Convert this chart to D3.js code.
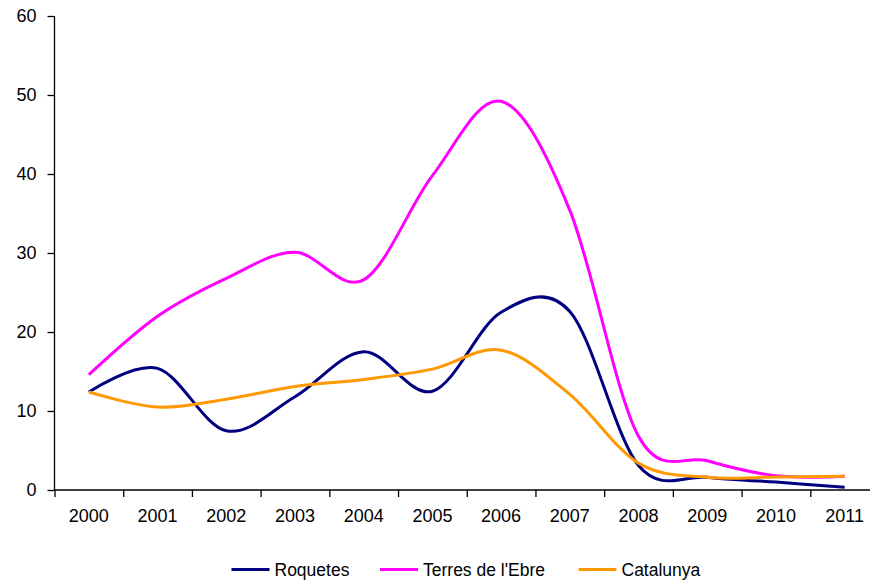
<!DOCTYPE html>
<html>
<head>
<meta charset="utf-8">
<script src="https://cdnjs.cloudflare.com/ajax/libs/d3/7.8.5/d3.min.js"></script>
<style>
  html, body { margin: 0; padding: 0; background: #fff; }
  svg { display: block; font-family: "Liberation Sans", Arial, sans-serif; }
</style>
</head>
<body>
<svg id="chart" width="870" height="580"></svg>
<script>
const years = ["2000","2001","2002","2003","2004","2005","2006","2007","2008","2009","2010","2011"];
const roquetes = [12.4, 15.4, 7.5, 11.8, 17.5, 12.5, 22.5, 22.6, 3.1, 1.6, 1.0, 0.35];
const terres   = [14.6, 22.0, 26.8, 30.1, 26.6, 39.8, 49.2, 35.4, 6.8, 3.7, 1.8, 1.75];
const catalunya = [12.4, 10.5, 11.5, 13.1, 14.0, 15.3, 17.7, 12.1, 3.4, 1.6, 1.65, 1.75];
const yTicks = [0, 10, 20, 30, 40, 50, 60];
const seriesNames = ["Roquetes", "Terres de l'Ebre", "Catalunya"];
const seriesColors = ["#000080", "#FF00FF", "#FF9900"];
const seriesValues = [roquetes, terres, catalunya];

(function () {
const svg = d3.select("#chart");
const mLeft = 54.5, mRight = 879, mTop = 16, mBottom = 490;

const xBand = d3.scaleBand().domain(years).range([mLeft, mRight]).paddingInner(0).paddingOuter(0);
const xLin = d3.scaleLinear().domain([0, years.length]).range([mLeft, mRight]);
const y = d3.scaleLinear().domain([0, 60]).range([mBottom, mTop]);

// Y axis
const yAxis = svg.append("g").attr("transform", `translate(${mLeft},0)`)
  .call(d3.axisLeft(y).tickValues(yTicks).tickSize(7).tickPadding(11).tickFormat(d3.format("d")));
yAxis.select(".domain").attr("stroke", "#000").attr("stroke-width", 1.3).attr("d", `M0,${mTop}V${mBottom}`);
yAxis.selectAll(".tick line").attr("stroke", "#000").attr("stroke-width", 1.3);
yAxis.selectAll("text").attr("font-size", 18).attr("fill", "#000").attr("font-family", "Liberation Sans, Arial, sans-serif");

// X axis tick marks (between categories)
const xAxis = svg.append("g").attr("transform", `translate(0,${mBottom})`)
  .call(d3.axisBottom(xLin).tickValues(d3.range(years.length + 1)).tickSize(7).tickFormat(""));
xAxis.select(".domain").attr("stroke", "#000").attr("stroke-width", 1.3).attr("d", `M${mLeft},0H${mRight}`);
xAxis.selectAll(".tick line").attr("stroke", "#000").attr("stroke-width", 1.3);

// X labels at category centers
const xLab = svg.append("g").attr("transform", `translate(0,${mBottom})`)
  .call(d3.axisBottom(xBand).tickSize(0).tickPadding(19));
xLab.select(".domain").remove();
xLab.selectAll("text").attr("font-size", 18).attr("fill", "#000").attr("font-family", "Liberation Sans, Arial, sans-serif");

// Lines
const line = d3.line()
  .x((d, i) => xBand(years[i]) + xBand.bandwidth() / 2)
  .y(d => y(d))
  .curve(d3.curveCardinal.tension(0));

seriesValues.forEach((vals, k) => {
  svg.append("path")
    .datum(vals)
    .attr("fill", "none")
    .attr("stroke", seriesColors[k])
    .attr("stroke-width", 3)
    .attr("stroke-linejoin", "round")
    .attr("d", line);
});

// Legend
const legendX = [231.5, 380, 578.5];
const legendY = 569.5;
const leg = svg.append("g");
seriesNames.forEach((name, k) => {
  leg.append("line")
    .attr("x1", legendX[k]).attr("x2", legendX[k] + 38)
    .attr("y1", legendY).attr("y2", legendY)
    .attr("stroke", seriesColors[k]).attr("stroke-width", 3);
  leg.append("text")
    .attr("x", legendX[k] + 43).attr("y", 576)
    .attr("font-size", 17.5).attr("fill", "#000")
    .text(name);
});
})();
</script>
</body>
</html>
